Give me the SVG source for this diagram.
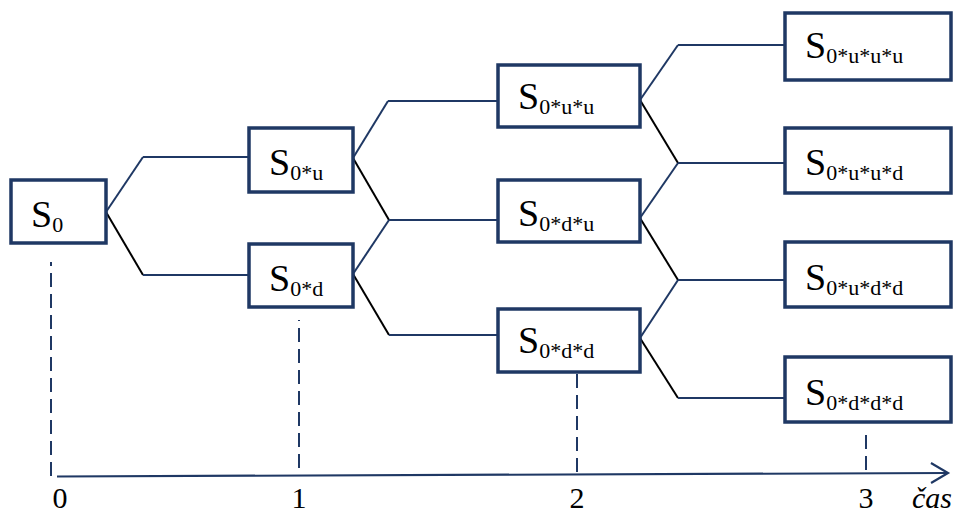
<svg xmlns="http://www.w3.org/2000/svg" width="957" height="517" viewBox="0 0 957 517">
  <defs>
    <marker id="open-arrow" markerWidth="22" markerHeight="24" refX="18" refY="11" orient="auto" markerUnits="userSpaceOnUse">
      <path d="M1,1 L18,11 L1,21" fill="none" stroke="#1f3864" stroke-width="2.2"/>
    </marker>
  </defs>
  <style>
    .box { fill: #ffffff; stroke: #1f3864; stroke-width: 3.5; }
    .up { fill: none; stroke: #1f3864; stroke-width: 2; }
    .down { fill: none; stroke: #000000; stroke-width: 2; }
    .hz { fill: none; stroke: #1f3864; stroke-width: 2; }
    .dash { fill: none; stroke: #1f3864; stroke-width: 2; stroke-dasharray: 14 7; }
    .axis { fill: none; stroke: #1f3864; stroke-width: 2.2; }
  </style>

  <!-- connectors -->
  <g id="connectors">
    <!-- from S0 -->
    <path class="up" d="M106,212 L143,157"/>
    <path class="hz" d="M143,157 L249,157"/>
    <path class="down" d="M106,212 L143,275"/>
    <path class="hz" d="M143,275 L249,275"/>
    <!-- from S0*u -->
    <path class="up" d="M353,158 L388,101"/>
    <path class="hz" d="M388,101 L498,101"/>
    <path class="down" d="M353,158 L389,220"/>
    <path class="hz" d="M389,220 L498,220"/>
    <!-- from S0*d -->
    <path class="up" d="M353,274 L389,220"/>
    <path class="down" d="M353,274 L389,335"/>
    <path class="hz" d="M389,335 L498,335"/>
    <!-- from S0*u*u -->
    <path class="up" d="M640,100 L678,45"/>
    <path class="hz" d="M678,45 L785,45"/>
    <path class="down" d="M640,100 L678,163"/>
    <path class="hz" d="M678,163 L785,163"/>
    <!-- from S0*d*u -->
    <path class="up" d="M640,218 L678,163"/>
    <path class="down" d="M640,218 L678,280"/>
    <path class="hz" d="M678,280 L785,280"/>
    <!-- from S0*d*d -->
    <path class="up" d="M640,338 L678,280"/>
    <path class="down" d="M640,338 L678,398"/>
    <path class="hz" d="M678,398 L785,398"/>
    <!-- period markers, drawn upward from the axis so a full dash meets it -->
    <path class="dash" d="M51,476 L51,262"/>
    <path class="dash" d="M299,468 L299,320"/>
    <path class="dash" d="M577,472 L577,374"/>
    <path class="dash" d="M866,470 L866,432"/>
    <!-- time axis -->
    <path class="axis" d="M57,476.5 L948,473" marker-end="url(#open-arrow)"/>
  </g>

  <!-- nodes: all labels share one serif text style -->
  <g font-family="Liberation Serif, DejaVu Serif, serif" font-size="38" fill="#000000">
    <g id="s0">
      <rect class="box" x="11" y="180" width="95" height="63"/>
      <text x="31" y="227">S<tspan font-size="22" dy="5">0</tspan></text>
    </g>
    <g id="s0u">
      <rect class="box" x="249" y="128" width="104" height="64"/>
      <text x="269" y="175">S<tspan font-size="22" dy="5">0*u</tspan></text>
    </g>
    <g id="s0d">
      <rect class="box" x="249" y="244" width="104" height="63"/>
      <text x="269" y="291">S<tspan font-size="22" dy="5">0*d</tspan></text>
    </g>
    <g id="s0uu">
      <rect class="box" x="498" y="65" width="142" height="62"/>
      <text x="518" y="109">S<tspan font-size="22" dy="5">0*u*u</tspan></text>
    </g>
    <g id="s0du">
      <rect class="box" x="498" y="180" width="142" height="62"/>
      <text x="518" y="226">S<tspan font-size="22" dy="5">0*d*u</tspan></text>
    </g>
    <g id="s0dd">
      <rect class="box" x="498" y="309" width="142" height="63"/>
      <text x="518" y="353">S<tspan font-size="22" dy="5">0*d*d</tspan></text>
    </g>
    <g id="s0uuu">
      <rect class="box" x="785" y="13" width="166" height="67"/>
      <text x="805" y="58">S<tspan font-size="22" dy="5">0*u*u*u</tspan></text>
    </g>
    <g id="s0uud">
      <rect class="box" x="785" y="128" width="166" height="65"/>
      <text x="805" y="175">S<tspan font-size="22" dy="5">0*u*u*d</tspan></text>
    </g>
    <g id="s0udd">
      <rect class="box" x="785" y="242" width="166" height="65"/>
      <text x="805" y="290">S<tspan font-size="22" dy="5">0*u*d*d</tspan></text>
    </g>
    <g id="s0ddd">
      <rect class="box" x="785" y="357" width="166" height="65"/>
      <text x="805" y="405">S<tspan font-size="22" dy="5">0*d*d*d</tspan></text>
    </g>

    <!-- axis labels -->
    <g id="axis-labels" font-size="30">
      <text x="60" y="508" text-anchor="middle">0</text>
      <text x="299" y="508" text-anchor="middle">1</text>
      <text x="577" y="508" text-anchor="middle">2</text>
      <text x="866" y="508" text-anchor="middle">3</text>
      <text x="912" y="508" font-style="italic">čas</text>
    </g>
  </g>
</svg>
